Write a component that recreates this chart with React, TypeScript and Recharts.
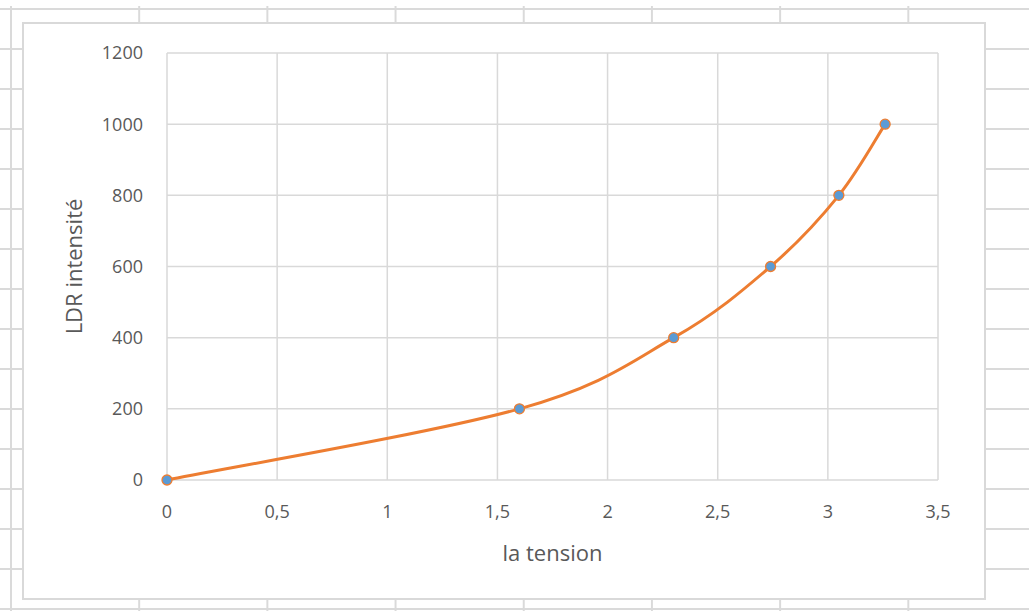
import React from 'react';
import { LineChart, Line, XAxis, YAxis, CartesianGrid } from 'recharts';

const tension = [0, 1.6, 2.3, 2.74, 3.05, 3.26];
const intensite = [0, 200, 400, 600, 800, 1000];
const xTicks = [0, 0.5, 1, 1.5, 2, 2.5, 3, 3.5];
const yTicks = [0, 200, 400, 600, 800, 1000, 1200];

const LINE_COLOR = '#ED7D31';
const DOT_COLOR = '#5B9BD5';
const GRID_COLOR = '#d9d9d9';
const SHEET_COLOR = '#dadada';
const TEXT_COLOR = '#595959';
const FONT = '"Open Sans", sans-serif';

const data = tension.map((x, i) => ({ x, y: intensite[i] }));

// Excel-style smoothing (Catmull-Rom, 1/6 tension) as a d3 curve factory
function excelSmooth(context: any) {
  let pts: [number, number][] = [];
  return {
    areaStart() {},
    areaEnd() {},
    lineStart() {
      pts = [];
    },
    lineEnd() {
      const n = pts.length;
      if (!n) return;
      context.moveTo(pts[0][0], pts[0][1]);
      for (let i = 0; i < n - 1; i++) {
        const p0 = pts[Math.max(i - 1, 0)];
        const p1 = pts[i];
        const p2 = pts[i + 1];
        const p3 = pts[Math.min(i + 2, n - 1)];
        context.bezierCurveTo(
          p1[0] + (p2[0] - p0[0]) / 6,
          p1[1] + (p2[1] - p0[1]) / 6,
          p2[0] - (p3[0] - p1[0]) / 6,
          p2[1] - (p3[1] - p1[1]) / 6,
          p2[0],
          p2[1]
        );
      }
    },
    point(x: number, y: number) {
      pts.push([+x, +y]);
    },
  };
}

const fmt = (v: number) => String(v).replace('.', ',');

export default function App() {
  return (
    <div
      style={{
        position: 'absolute',
        left: 0,
        top: 0,
        width: 1029,
        height: 611,
        overflow: 'hidden',
        backgroundColor: '#fff',
      }}
    >
      {/* spreadsheet cells behind the chart */}
      <div
        style={{
          position: 'absolute',
          left: 0,
          top: 6,
          width: 1029,
          height: 605,
          backgroundImage: `linear-gradient(to right, ${SHEET_COLOR} 2px, transparent 2px), linear-gradient(to bottom, ${SHEET_COLOR} 2px, transparent 2px)`,
          backgroundSize: '128.2px 100%, 100% 40px',
          backgroundPosition: '10px 0, 0 2px',
        }}
      />
      <div
        style={{
          position: 'absolute',
          left: 22,
          top: 22,
          width: 964,
          height: 578,
          boxSizing: 'border-box',
          border: `2px solid ${GRID_COLOR}`,
          background: '#fff',
          fontFamily: FONT,
        }}
      >
        <LineChart width={960} height={574} data={data} margin={{ top: 29, right: 46, bottom: 0, left: 0 }}>
          <CartesianGrid stroke={GRID_COLOR} strokeWidth={1.5} />
          <XAxis
            dataKey="x"
            type="number"
            domain={[0, 3.5]}
            ticks={xTicks}
            tickFormatter={fmt}
            axisLine={false}
            tickLine={false}
            tickMargin={19}
            height={118}
            tick={{ fontSize: 18, fill: TEXT_COLOR, fontFamily: FONT }}
            label={{
              value: 'la tension',
              position: 'insideBottom',
              offset: 37,
              fontSize: 22,
              fill: TEXT_COLOR,
              fontFamily: FONT,
            }}
          />
          <YAxis
            type="number"
            domain={[0, 1200]}
            ticks={yTicks}
            axisLine={false}
            tickLine={false}
            tickMargin={18}
            width={143}
            tick={{ fontSize: 18, fill: TEXT_COLOR, fontFamily: FONT }}
            label={{
              value: 'LDR intensité',
              angle: -90,
              position: 'center',
              dx: -21,
              fontSize: 22,
              fill: TEXT_COLOR,
              fontFamily: FONT,
            }}
          />
          <Line
            dataKey="y"
            type={excelSmooth as any}
            stroke={LINE_COLOR}
            strokeWidth={3}
            dot={{ r: 5, fill: DOT_COLOR, stroke: LINE_COLOR, strokeWidth: 1.3 }}
            isAnimationActive={false}
          />
        </LineChart>
      </div>
    </div>
  );
}
